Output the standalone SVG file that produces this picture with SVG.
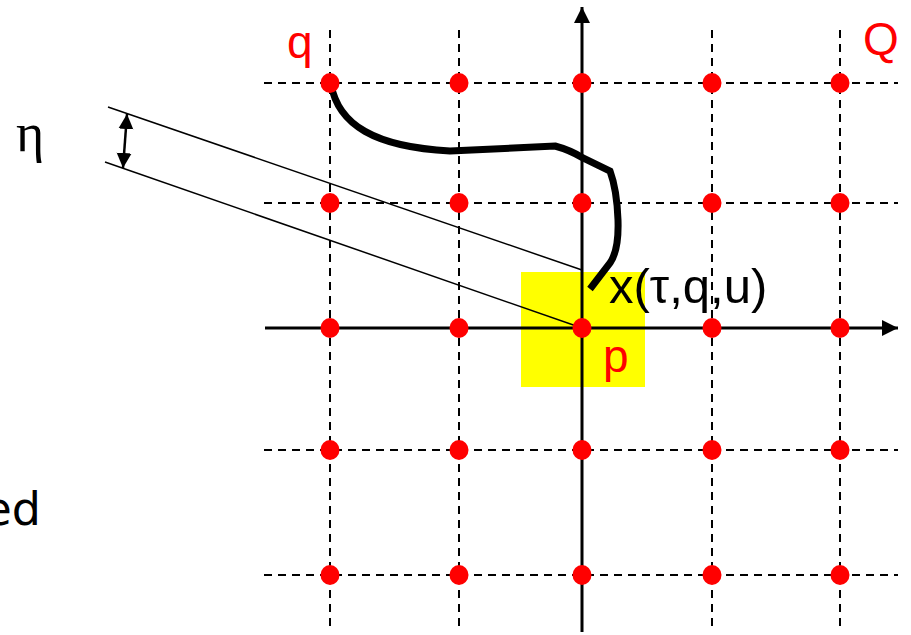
<svg xmlns="http://www.w3.org/2000/svg" width="911" height="635" viewBox="0 0 911 635">
<style>
.grid{stroke:#000;stroke-width:2;stroke-dasharray:8 6;fill:none}
.axis{stroke:#000;stroke-width:3;fill:none}
.thin{stroke:#000;stroke-width:1.5;fill:none}
.dot{fill:#ff0000}
.lbl{font-family:"Liberation Sans",Arial,sans-serif;font-size:46px}
.red{fill:#ff0000}
</style>
<defs>
<marker id="ah" viewBox="0 0 10 10" refX="10" refY="5" markerWidth="16" markerHeight="16" markerUnits="userSpaceOnUse" orient="auto">
<path d="M0,0 L10,5 L0,10 Z" fill="#000"/>
</marker>
<marker id="dh" viewBox="0 0 10 10" refX="10" refY="5" markerWidth="15" markerHeight="17" markerUnits="userSpaceOnUse" orient="auto-start-reverse">
<path d="M0,0 L10,5 L0,10 Z" fill="#000"/>
</marker>
</defs>
<rect x="521" y="272" width="124" height="115" fill="#ffff00"/>
<g id="grid">
<line class="grid" x1="330" y1="30" x2="330" y2="632"/>
<line class="grid" x1="459" y1="30" x2="459" y2="632"/>
<line class="grid" x1="712" y1="30" x2="712" y2="632"/>
<line class="grid" x1="840" y1="30" x2="840" y2="632"/>
<line class="grid" x1="264" y1="83" x2="898" y2="83"/>
<line class="grid" x1="264" y1="203" x2="898" y2="203"/>
<line class="grid" x1="264" y1="450" x2="898" y2="450"/>
<line class="grid" x1="264" y1="575" x2="898" y2="575"/>
</g>
<g id="connectors">
<line class="axis" x1="582" y1="632" x2="582" y2="7" marker-end="url(#ah)"/>
<line class="axis" x1="265" y1="328" x2="898" y2="328" marker-end="url(#ah)"/>
<line class="thin" x1="108" y1="107" x2="582" y2="270"/>
<line class="thin" x1="105" y1="162" x2="582" y2="328"/>
<line stroke="#000" stroke-width="2.5" x1="127" y1="114" x2="123" y2="168" marker-start="url(#dh)" marker-end="url(#dh)"/>
<path d="M331,84 C338,125 375,147 450,151 L555,146 Q570,150 583,158 L610,171 Q617,190 618,220 Q619,250 610,263 L590,289" fill="none" stroke="#000" stroke-width="7"/>
</g>
<g id="dots">
<ellipse class="dot" cx="330" cy="83" rx="9.5" ry="10"/>
<ellipse class="dot" cx="459" cy="83" rx="9.5" ry="10"/>
<ellipse class="dot" cx="582" cy="83" rx="9.5" ry="10"/>
<ellipse class="dot" cx="712" cy="83" rx="9.5" ry="10"/>
<ellipse class="dot" cx="840" cy="83" rx="9.5" ry="10"/>
<ellipse class="dot" cx="330" cy="203" rx="9.5" ry="10"/>
<ellipse class="dot" cx="459" cy="203" rx="9.5" ry="10"/>
<ellipse class="dot" cx="582" cy="203" rx="9.5" ry="10"/>
<ellipse class="dot" cx="712" cy="203" rx="9.5" ry="10"/>
<ellipse class="dot" cx="840" cy="203" rx="9.5" ry="10"/>
<ellipse class="dot" cx="330" cy="328" rx="9.5" ry="10"/>
<ellipse class="dot" cx="459" cy="328" rx="9.5" ry="10"/>
<ellipse class="dot" cx="582" cy="328" rx="9.5" ry="10"/>
<ellipse class="dot" cx="712" cy="328" rx="9.5" ry="10"/>
<ellipse class="dot" cx="840" cy="328" rx="9.5" ry="10"/>
<ellipse class="dot" cx="330" cy="450" rx="9.5" ry="10"/>
<ellipse class="dot" cx="459" cy="450" rx="9.5" ry="10"/>
<ellipse class="dot" cx="582" cy="450" rx="9.5" ry="10"/>
<ellipse class="dot" cx="712" cy="450" rx="9.5" ry="10"/>
<ellipse class="dot" cx="840" cy="450" rx="9.5" ry="10"/>
<ellipse class="dot" cx="330" cy="575" rx="9.5" ry="10"/>
<ellipse class="dot" cx="459" cy="575" rx="9.5" ry="10"/>
<ellipse class="dot" cx="582" cy="575" rx="9.5" ry="10"/>
<ellipse class="dot" cx="712" cy="575" rx="9.5" ry="10"/>
<ellipse class="dot" cx="840" cy="575" rx="9.5" ry="10"/>
</g>
<g id="labels">
<text class="lbl red" x="287" y="58">q</text>
<text class="lbl red" x="863" y="55" style="font-size:46px">Q</text>
<text class="lbl" x="609" y="303" style="font-size:49px">x(τ,q,u)</text>
<text class="lbl red" x="603" y="372">p</text>
<text x="16" y="151" font-family="'Liberation Serif','Times New Roman',serif" font-size="54">η</text>
<text x="41" y="525" text-anchor="end" font-family="'DejaVu Sans',sans-serif" font-size="46">ed</text>
</g>
</svg>
